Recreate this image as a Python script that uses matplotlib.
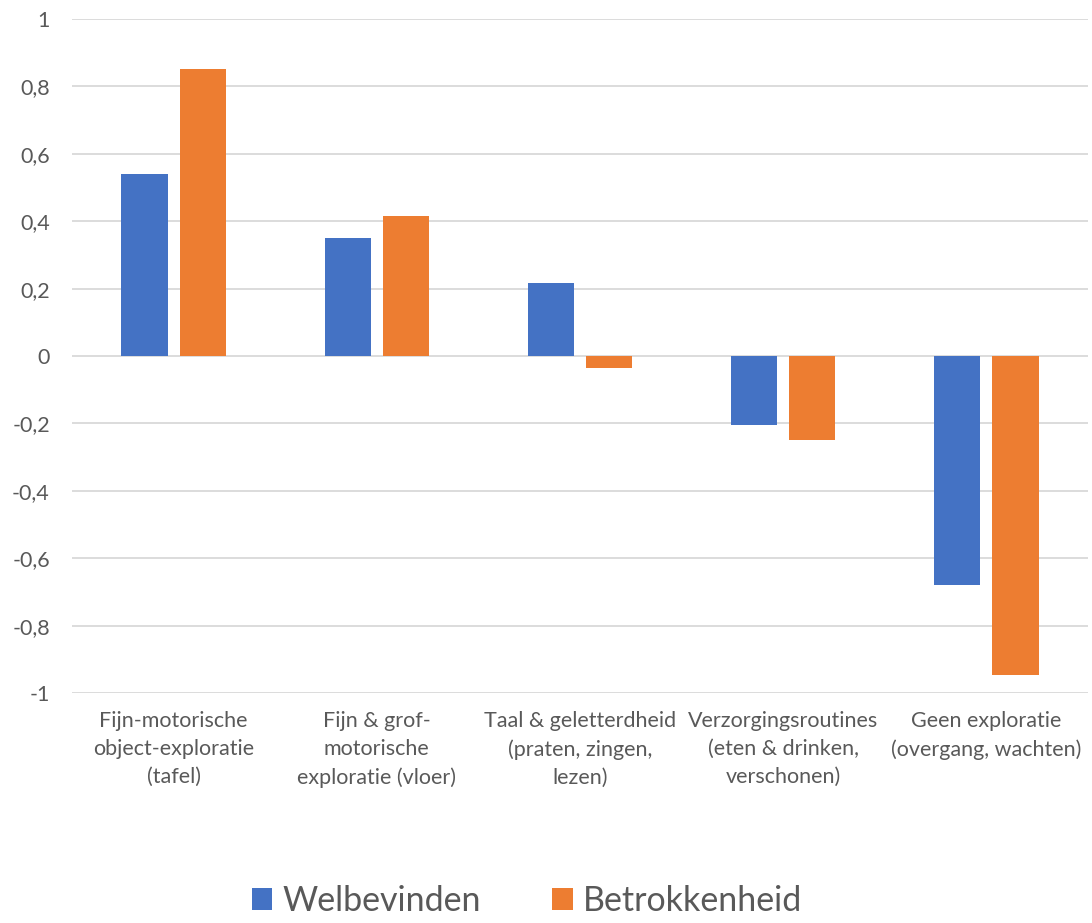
import numpy as np
import matplotlib.pyplot as plt

categories = [
    "Fijn-motorische\nobject-exploratie\n(tafel)",
    "Fijn & grof-\nmotorische\nexploratie (vloer)",
    "Taal & geletterdheid\n(praten, zingen,\nlezen)",
    "Verzorgingsroutines\n(eten & drinken,\nverschonen)",
    "Geen exploratie\n(overgang, wachten)",
]
welbevinden = [0.54, 0.35, 0.217, -0.205, -0.68]
betrokkenheid = [0.852, 0.415, -0.036, -0.249, -0.947]
yticks = [1, 0.8, 0.6, 0.4, 0.2, 0, -0.2, -0.4, -0.6, -0.8, -1]
ytick_labels = ["1", "0,8", "0,6", "0,4", "0,2", "0", "-0,2", "-0,4", "-0,6", "-0,8", "-1"]

blue = "#4472c4"
orange = "#ed7d31"
grey = "#595959"
plt.rcParams['font.family'] = ['Lato', 'DejaVu Sans']

fig = plt.figure(figsize=(10.92, 9.23), dpi=100)
ax = fig.add_axes([72 / 1092, 1 - 693 / 923, 1016 / 1092, 674 / 923])

x = np.arange(len(categories))
w = 0.227
off = 0.143
ax.bar(x - off, welbevinden, w, color=blue, label="Welbevinden", zorder=3)
ax.bar(x + off, betrokkenheid, w, color=orange, label="Betrokkenheid", zorder=3)

ax.set_xlim(-0.5, len(categories) - 0.5)
ax.set_ylim(-1, 1)
ax.set_yticks(yticks)
ax.set_yticklabels(ytick_labels, fontsize=15.5, color=grey)
ax.set_xticks(x)
ax.set_xticklabels(categories, fontsize=15.5, color=grey, linespacing=1.5)
ax.tick_params(length=0)
ax.tick_params(axis='y', pad=16)
ax.tick_params(axis='x', pad=13)
ax.grid(axis='y', color="#d9d9d9", linewidth=1.3, zorder=0)
for s in ax.spines.values():
    s.set_visible(False)

# legend sits at the very bottom like the original, nudged up so it isn't clipped
leg = fig.legend(loc="center", bbox_to_anchor=(527 / 1092, 1 - 901 / 923), ncol=2,
                 frameon=False, fontsize=24.5, handlelength=0.6, handleheight=0.6,
                 handletextpad=0.3, columnspacing=2.1, labelcolor=grey,
                 borderpad=0, borderaxespad=0)

fig.savefig("out.png", dpi=100)
